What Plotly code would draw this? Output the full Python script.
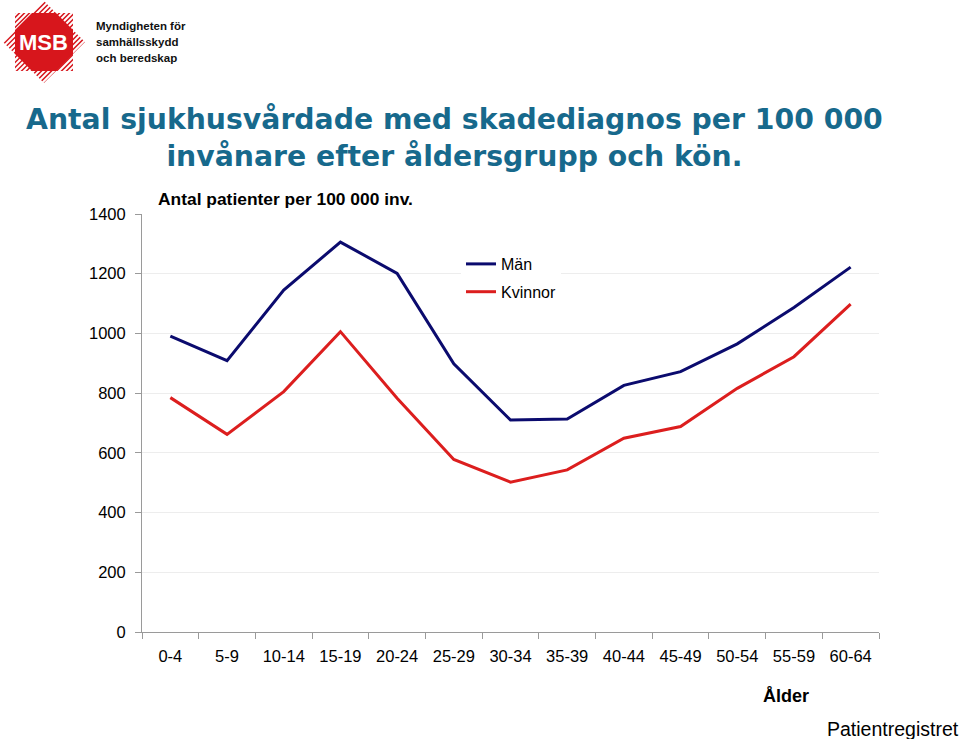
import math
import plotly.graph_objects as go

# ---- data ----
age_groups = ["0-4", "5-9", "10-14", "15-19", "20-24", "25-29", "30-34",
              "35-39", "40-44", "45-49", "50-54", "55-59", "60-64"]
man_values = [991, 909, 1145, 1306, 1201, 898, 710, 713, 826, 872, 965, 1087, 1222]
kvinnor_values = [785, 662, 805, 1006, 783, 578, 502, 543, 649, 688, 816, 922, 1098]
y_ticks = [0, 200, 400, 600, 800, 1000, 1200, 1400]

W, H = 960, 739


def px(x):
    return x / W


def py(y):
    return 1 - y / H


fig = go.Figure()
fig.add_trace(go.Scatter(x=age_groups, y=man_values, mode="lines", name="Män",
                         legendgroup="m",
                         line=dict(color="#0b0b6e", width=3)))
fig.add_trace(go.Scatter(x=age_groups, y=kvinnor_values, mode="lines", name="Kvinnor",
                         legendgroup="k",
                         line=dict(color="#dc1e1e", width=3)))

SANS = "Liberation Sans, Arial, sans-serif"
axis_font = dict(family=SANS, size=16.5, color="#000000")

fig.update_layout(
    width=W, height=H,
    margin=dict(l=0, r=0, t=0, b=0, autoexpand=False),
    paper_bgcolor="white", plot_bgcolor="white",
    showlegend=True,
    legend=dict(x=px(461), y=py(247), xanchor="left", yanchor="top",
                bgcolor="white", font=dict(family=SANS, size=16, color="#000"),
                tracegroupgap=4, itemwidth=30),
    xaxis=dict(domain=[px(142), px(879)], type="category",
               range=[-0.5, len(age_groups) - 0.5], automargin=False,
               showline=True, linecolor="#9a9a9a", linewidth=1,
               ticks="outside", tickson="boundaries", ticklen=6,
               tickcolor="#9a9a9a", tickfont=axis_font, showgrid=False,
               ticklabelstandoff=9),
    yaxis=dict(domain=[py(632), py(214)], range=[0, 1400], automargin=False,
               tickvals=y_ticks, showline=True, linecolor="#9a9a9a",
               linewidth=1, ticks="outside", ticklen=6, tickcolor="#9a9a9a",
               tickfont=axis_font, showgrid=True, gridcolor="#ededed",
               gridwidth=1, zeroline=False, ticklabelstandoff=6),
)


def note(x, y, text, font, xanchor="center", align="center"):
    return dict(x=px(x), y=py(y), xref="paper", yref="paper", text=text,
                font=font, xanchor=xanchor, yanchor="middle",
                showarrow=False, align=align)


annotations = [
    note(454, 138,
         "<b>Antal sjukhusvårdade med skadediagnos per 100 000<br>invånare efter åldersgrupp och kön.</b>",
         dict(family="DejaVu Sans, Verdana, sans-serif", size=28.3, color="#17698c")),
    note(156, 199, "<b>Antal patienter per 100 000 inv.</b>",
         dict(family=SANS, size=17.4, color="#000"), xanchor="left"),
    note(786, 696, "<b>Ålder</b>", dict(family=SANS, size=18, color="#000")),
    note(961, 729, "Patientregistret", dict(family=SANS, size=19.5, color="#000"),
         xanchor="right"),
    # logo texts
    note(43, 42, "<b>MSB</b>", dict(family=SANS, size=22, color="white")),
    note(94, 26, "<b>Myndigheten för</b>", dict(family=SANS, size=11.5, color="#111"),
         xanchor="left"),
    note(94, 42, "<b>samhällsskydd</b>", dict(family=SANS, size=11.5, color="#111"),
         xanchor="left"),
    note(94, 58, "<b>och beredskap</b>", dict(family=SANS, size=11.5, color="#111"),
         xanchor="left"),
]
fig.update_layout(annotations=annotations)

# ---- logo shapes (decoration, pixel based) ----
cx, cy, R = 44, 42, 41
r_in = R * math.cos(math.pi / 4) / math.cos(math.pi / 8)
pts = []
for k in range(16):
    ang = -math.pi / 2 + k * math.pi / 8
    rr = R if k % 2 == 0 else r_in
    pts.append((cx + rr * math.cos(ang), cy + rr * math.sin(ang)))


def to_path(points):
    return "M " + " L ".join(f"{px(x):.5f},{py(y):.5f}" for x, y in points) + " Z"


shapes = [dict(type="path", path=to_path(pts), xref="paper", yref="paper",
               fillcolor="#d7161c", line=dict(width=0), layer="above")]
for off in range(-96, 100, 5):
    x0, y0 = cx + off - 50, cy + 50
    x1, y1 = cx + off + 50, cy - 50
    shapes.append(dict(type="line", x0=px(x0), y0=py(y0), x1=px(x1), y1=py(y1),
                       xref="paper", yref="paper",
                       line=dict(color="white", width=2), layer="above"))
octo = pts[1::2]
shapes.append(dict(type="path", path=to_path(octo), xref="paper", yref="paper",
                   fillcolor="#d7161c", line=dict(width=0), layer="above"))
fig.update_layout(shapes=shapes)

fig.write_html("out.html", config={"displayModeBar": False},
               post_script="document.body.style.margin='0';document.body.style.overflow='hidden';")
